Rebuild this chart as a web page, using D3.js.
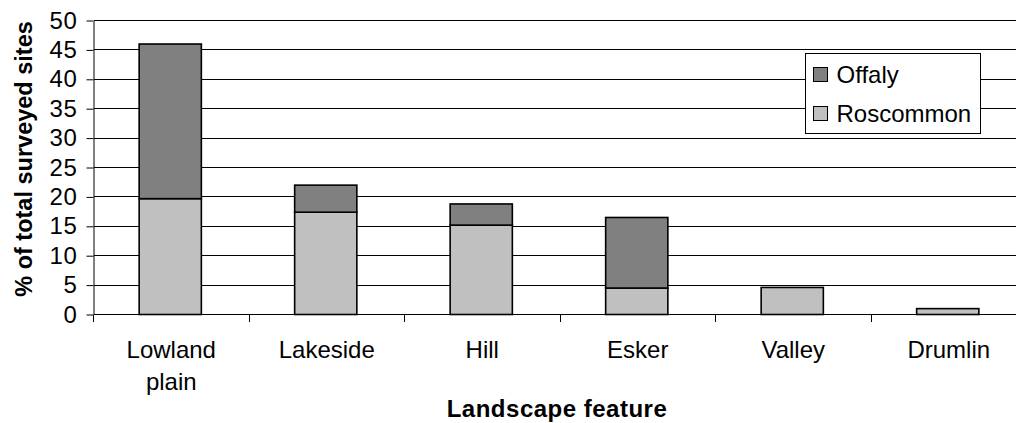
<!DOCTYPE html>
<html>
<head>
<meta charset="utf-8">
<script src="https://cdn.jsdelivr.net/npm/d3@7"></script>
<style>
  body { margin: 0; background: #fff; }
  text { font-family: "Liberation Sans", Arial, sans-serif; fill: #000; }
</style>
</head>
<body>
<div id="chart-area"></div>
<script>
// data
const categories = ["Lowland plain", "Lakeside", "Hill", "Esker", "Valley", "Drumlin"]
const roscommon = [19.7, 17.4, 15.2, 4.5, 4.6, 1.0]
const offaly = [26.3, 4.6, 3.6, 12.0, 0, 0]
const yTicks = [0, 5, 10, 15, 20, 25, 30, 35, 40, 45, 50]
const seriesNames = ["Offaly", "Roscommon"]
const seriesColors = { Offaly: "#808080", Roscommon: "#c0c0c0" }

const W = 1016
const H = 423
const LEFT = 93.5
const TOP = 20.5
const BOTTOM = 314.5
const STEP = 155.5

const svg = d3.select("#chart-area").append("svg")
	.attr("width", W)
	.attr("height", H)

// scales
const x = d3.scaleBand()
	.domain(categories)
	.range([LEFT, LEFT + STEP * categories.length])
	.padding(0)
const y = d3.scaleLinear().domain([0, 50]).range([BOTTOM, TOP])

// gridlines
svg.append("g")
	.selectAll("line")
	.data(yTicks.filter(d => d > 0))
	.enter().append("line")
	.attr("x1", LEFT)
	.attr("x2", W)
	.attr("y1", d => y(d))
	.attr("y2", d => y(d))
	.attr("stroke", "#000")
	.attr("stroke-width", 1)
	.attr("shape-rendering", "crispEdges")

// stacked data
const rows = categories.map((c, i) => ({ cat: c, Roscommon: roscommon[i], Offaly: offaly[i] }))
const stack = d3.stack().keys(["Roscommon", "Offaly"])(rows)
const barW = x.bandwidth() * 0.4

stack.forEach(layer => {
	svg.append("g")
		.selectAll("rect")
		.data(layer.filter(d => d[1] - d[0] > 0))
		.enter().append("rect")
		.attr("x", d => x(d.data.cat) + (x.bandwidth() - barW) / 2 - 1)
		.attr("width", barW)
		.attr("y", d => y(d[1]))
		.attr("height", d => y(d[0]) - y(d[1]))
		.attr("fill", seriesColors[layer.key])
		.attr("stroke", "#000")
		.attr("stroke-width", 1.6)
})

// y axis
const yAxis = svg.append("g")
	.attr("transform", `translate(${LEFT}, 0)`)
	.call(d3.axisLeft(y).tickValues(yTicks).tickSize(7).tickPadding(9).tickSizeOuter(0))
yAxis.select(".domain").attr("stroke", "#000")
yAxis.selectAll(".tick line").attr("stroke", "#000")
yAxis.selectAll(".tick text")
	.style("font-size", "24px")
	.style("letter-spacing", "0.6px")
	.style("font-family", "'Liberation Sans', Arial, sans-serif")
	.attr("fill", "#000")

// x axis: line and ticks at band boundaries
svg.append("line")
	.attr("x1", LEFT).attr("x2", W)
	.attr("y1", BOTTOM).attr("y2", BOTTOM)
	.attr("stroke", "#000")
	.attr("shape-rendering", "crispEdges")
svg.append("g")
	.selectAll("line")
	.data(categories)
	.enter().append("line")
	.attr("x1", d => x(d))
	.attr("x2", d => x(d))
	.attr("y1", BOTTOM)
	.attr("y2", BOTTOM + 7)
	.attr("stroke", "#000")
	.attr("shape-rendering", "crispEdges")

// x labels
const xLabels = svg.append("g")
	.selectAll("text")
	.data(categories)
	.enter().append("text")
	.attr("text-anchor", "middle")
	.style("font-size", "24px")
xLabels.each(function (d) {
	const words = d.split(" ")
	const cx = x(d) + x.bandwidth() / 2
	words.forEach((w, i) => {
		d3.select(this).append("tspan")
			.attr("x", cx)
			.attr("y", 358 + i * 32)
			.text(w)
	})
})

// axis titles
svg.append("text")
	.attr("x", 557)
	.attr("y", 417)
	.attr("text-anchor", "middle")
	.style("font-size", "24px")
	.style("font-weight", "bold")
	.style("letter-spacing", "0.5px")
	.text("Landscape feature")

svg.append("text")
	.attr("transform", "translate(32, 159) rotate(-90)")
	.attr("text-anchor", "middle")
	.style("font-size", "23.5px")
	.style("font-weight", "bold")
	.text("% of total surveyed sites")

// legend
const legend = svg.append("g").attr("transform", "translate(805.5, 53.5)")
legend.append("rect")
	.attr("width", 175)
	.attr("height", 80)
	.attr("fill", "#fff")
	.attr("stroke", "#000")
	.attr("stroke-width", 1)
seriesNames.forEach((name, i) => {
	const gy = 21 + i * 39
	legend.append("rect")
		.attr("x", 8)
		.attr("y", gy - 7)
		.attr("width", 14)
		.attr("height", 14)
		.attr("fill", seriesColors[name])
		.attr("stroke", "#000")
		.attr("stroke-width", 1)
	legend.append("text")
		.attr("x", 31)
		.attr("y", gy + 8)
		.style("font-size", "24px")
		.text(name)
})
</script>
</body>
</html>
